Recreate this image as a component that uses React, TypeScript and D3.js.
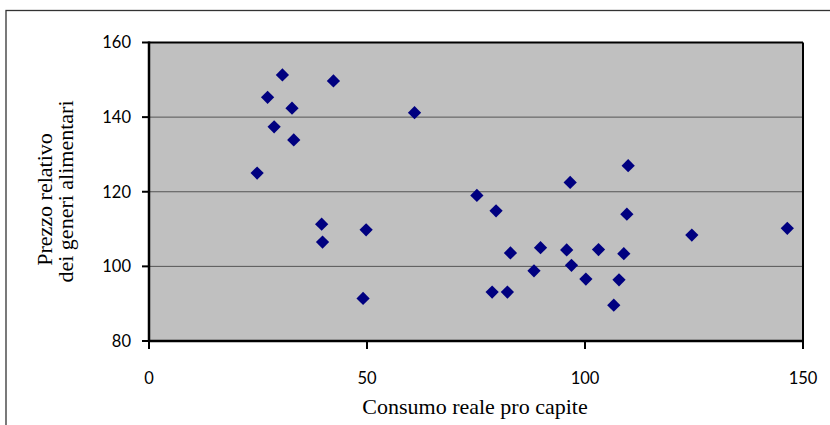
import React from "react";
import * as d3 from "d3";

const consumo = [24.8, 27.2, 30.6, 28.7, 32.8, 33.2, 39.6, 39.8, 42.3, 49.8, 49.1, 60.9, 75.2, 79.6, 78.7, 82.2, 82.9, 88.3, 89.8, 95.8, 96.6, 96.9, 100.2, 103.1, 106.6, 107.8, 108.9, 109.6, 109.9, 124.5, 146.4];
const prezzo = [125, 145.3, 151.3, 137.4, 142.4, 133.9, 111.3, 106.5, 149.7, 109.8, 91.4, 141.2, 119, 114.9, 93.1, 93.1, 103.6, 98.8, 105, 104.4, 122.5, 100.3, 96.6, 104.5, 89.6, 96.4, 103.4, 114, 127, 108.4, 110.2];
const xTicks = [0, 50, 100, 150];
const yTicks = [80, 100, 120, 140, 160];
const xTitle = "Consumo reale pro capite";
const yTitle = ["Prezzo relativo", "dei generi alimentari"];

const W = 830, H = 425;
const L = 149, R = 803, T = 42.5, B = 341;

export default function App() {
  const x = d3.scaleLinear().domain([0, 150]).range([L, R]);
  const y = d3.scaleLinear().domain([80, 160]).range([B, T]);
  const diamond = d3.symbol().type(d3.symbolDiamond2).size(112)();
  const tickFont = "Lato, 'Open Sans', sans-serif";
  const titleFont = "'Liberation Serif', 'DejaVu Serif', serif";
  return (
    <svg width={W} height={H} style={{ position: "absolute", left: 0, top: 0 }}>
      <rect x={0} y={0} width={W} height={H} fill="#fff" />
      <rect x={6} y={10.5} width={1000} height={1000} fill="none" stroke="#333" strokeWidth={1.3} />
      <rect x={L} y={T} width={R - L} height={B - T} fill="#C0C0C0" />
      {yTicks.filter(v => v !== 80 && v !== 160).map(v => (
        <line key={"g" + v} x1={L} x2={R} y1={y(v)} y2={y(v)} stroke="#555" strokeWidth={1} />
      ))}
      <line x1={L} x2={R} y1={T} y2={T} stroke="#000" strokeWidth={2} />
      <line x1={R} x2={R} y1={T} y2={B} stroke="#000" strokeWidth={2} />
      <line x1={L} x2={L} y1={T - 1} y2={B + 1} stroke="#000" strokeWidth={2.5} />
      <line x1={L - 1} x2={R + 1} y1={B} y2={B} stroke="#000" strokeWidth={2.5} />
      {yTicks.map(v => (
        <g key={"y" + v}>
          <line x1={L - 7} x2={L} y1={y(v)} y2={y(v)} stroke="#000" strokeWidth={2} />
          <text x={131} y={y(v)} dy="0.36em" textAnchor="end" fontFamily={tickFont} fontSize={16.5} fill="#000">{v}</text>
        </g>
      ))}
      {xTicks.map(v => (
        <g key={"x" + v}>
          <line x1={x(v)} x2={x(v)} y1={B} y2={B + 8} stroke="#000" strokeWidth={2} />
          <text x={x(v)} y={384} textAnchor="middle" fontFamily={tickFont} fontSize={16.5} fill="#000">{v}</text>
        </g>
      ))}
      {consumo.map((c, i) => (
        <path key={"p" + i} d={diamond} transform={`translate(${x(c)},${y(prezzo[i])})`} fill="#000080" />
      ))}
      <text x={(L + R) / 2 - 1} y={414} textAnchor="middle" fontFamily={titleFont} fontSize={22} fill="#000">{xTitle}</text>
      <text transform="translate(52,199.5) rotate(-90)" textAnchor="middle" fontFamily={titleFont} fontSize={22} fill="#000">{yTitle[0]}</text>
      <text transform="translate(73,191.5) rotate(-90)" textAnchor="middle" fontFamily={titleFont} fontSize={22} fill="#000">{yTitle[1]}</text>
    </svg>
  );
}
